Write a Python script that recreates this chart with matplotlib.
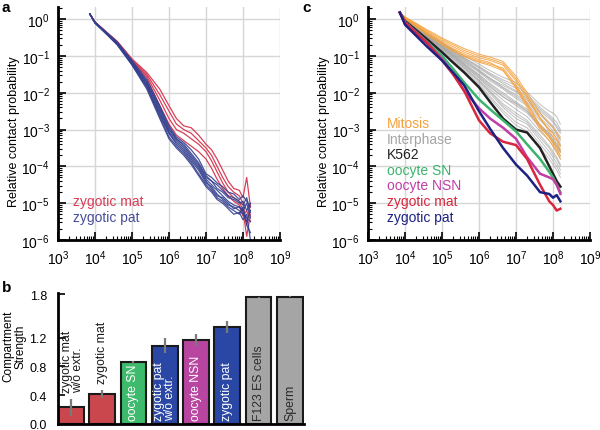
import numpy as np
import matplotlib
matplotlib.use("Agg")
import matplotlib.pyplot as plt
from matplotlib.ticker import LogLocator, LogFormatterSciNotation, NullFormatter

plt.rcParams["font.family"] = ["Liberation Sans", "DejaVu Sans"]
plt.rcParams["mathtext.default"] = "regular"

# ---- panel a: log10(s) grid and log10(P) per curve ----
a_logs = [3.86, 4.0, 4.3, 4.6, 5.0, 5.4, 5.75, 6.0, 6.2, 6.4, 6.6, 6.8, 7.0, 7.15,
          7.3, 7.45, 7.6, 7.75, 7.9, 8.0, 8.1, 8.2]
a_mat = [
    [0.14, -0.08, -0.34, -0.6, -1.08, -1.45, -1.9, -2.35, -2.7, -2.9, -2.95, -3.15, -3.4, -3.55, -3.8, -4.1, -4.4, -4.6, -4.65, -4.85, -4.3, -5.1],
    [0.14, -0.08, -0.35, -0.62, -1.1, -1.5, -2.05, -2.5, -2.85, -3.0, -3.1, -3.3, -3.5, -3.7, -4.0, -4.3, -4.55, -4.7, -4.8, -5.0, -5.6, -5.0],
    [0.14, -0.08, -0.35, -0.62, -1.1, -1.55, -2.2, -2.7, -3.0, -3.1, -3.25, -3.4, -3.6, -3.85, -4.15, -4.45, -4.7, -4.85, -4.95, -5.2, -5.9, -5.3],
    [0.14, -0.08, -0.36, -0.64, -1.12, -1.6, -2.35, -2.85, -3.15, -3.3, -3.45, -3.6, -3.8, -4.05, -4.35, -4.6, -4.8, -4.95, -5.05, -5.35, -5.2, -5.5],
]
a_pat = [
    [0.14, -0.08, -0.35, -0.62, -1.12, -1.65, -2.35, -2.9, -3.2, -3.35, -3.55, -3.8, -4.2, -4.3, -4.45, -4.55, -4.7, -4.75, -4.9, -4.8, -4.95, -5.1],
    [0.14, -0.09, -0.37, -0.65, -1.15, -1.7, -2.45, -3.0, -3.25, -3.45, -3.7, -3.95, -4.3, -4.4, -4.6, -4.7, -4.85, -4.9, -5.0, -4.95, -5.2, -5.0],
    [0.14, -0.1, -0.38, -0.66, -1.18, -1.75, -2.5, -3.05, -3.3, -3.5, -3.75, -4.0, -4.35, -4.5, -4.65, -4.8, -4.95, -5.05, -5.1, -5.2, -5.0, -5.4],
    [0.14, -0.1, -0.38, -0.67, -1.2, -1.8, -2.6, -3.1, -3.4, -3.6, -3.85, -4.1, -4.45, -4.55, -4.75, -4.9, -5.05, -5.1, -5.2, -5.3, -5.5, -5.2],
    [0.14, -0.1, -0.39, -0.68, -1.22, -1.85, -2.65, -3.2, -3.45, -3.65, -3.9, -4.2, -4.5, -4.65, -4.85, -4.95, -5.1, -5.2, -5.3, -5.1, -5.6, -5.8],
    [0.14, -0.11, -0.4, -0.7, -1.25, -1.9, -2.7, -3.25, -3.5, -3.7, -3.95, -4.25, -4.55, -4.7, -4.9, -5.0, -5.15, -5.3, -5.25, -5.45, -5.3, -6.0],
    [0.14, -0.09, -0.36, -0.64, -1.16, -1.72, -2.4, -2.95, -3.25, -3.4, -3.65, -3.9, -4.25, -4.4, -4.5, -4.65, -4.8, -4.85, -4.95, -5.05, -4.85, -5.25],
    [0.14, -0.1, -0.39, -0.69, -1.23, -1.82, -2.55, -3.1, -3.35, -3.55, -3.8, -4.05, -4.4, -4.6, -4.8, -4.85, -5.0, -5.15, -5.1, -5.25, -5.4, -5.5],
]

# ---- panel c ----
c_logs = [3.86, 4.0, 4.3, 4.6, 5.0, 5.3, 5.6, 6.0, 6.3, 6.65, 7.0, 7.3, 7.65, 7.9, 8.0, 8.1, 8.2]
c_interphase = [
    [0.18, 0.02, -0.2, -0.38, -0.63, -0.82, -1.0, -1.22, -1.4, -1.58, -1.72, -1.98, -2.32, -2.5, -2.55, -2.65, -2.85],
    [0.18, 0.01, -0.21, -0.4, -0.65, -0.85, -1.05, -1.28, -1.47, -1.65, -1.8, -2.05, -2.4, -2.6, -2.7, -2.8, -3.0],
    [0.18, 0.01, -0.22, -0.42, -0.67, -0.88, -1.08, -1.33, -1.53, -1.75, -1.95, -2.15, -2.5, -2.7, -2.8, -2.95, -3.1],
    [0.18, 0.0, -0.23, -0.43, -0.7, -0.9, -1.1, -1.38, -1.6, -1.85, -2.05, -2.25, -2.6, -2.85, -2.95, -3.1, -3.3],
    [0.18, 0.0, -0.24, -0.45, -0.72, -0.94, -1.15, -1.44, -1.68, -1.9, -2.15, -2.35, -2.75, -3.0, -3.1, -3.25, -3.45],
    [0.18, -0.01, -0.25, -0.46, -0.75, -0.97, -1.2, -1.5, -1.75, -2.0, -2.25, -2.45, -2.85, -3.1, -3.2, -3.4, -3.55],
    [0.18, -0.02, -0.25, -0.48, -0.76, -1.0, -1.23, -1.55, -1.82, -2.1, -2.35, -2.55, -2.95, -3.2, -3.35, -3.5, -3.7],
    [0.18, -0.02, -0.26, -0.49, -0.78, -1.02, -1.27, -1.6, -1.9, -2.2, -2.45, -2.65, -3.05, -3.3, -3.45, -3.6, -3.8],
    [0.18, -0.03, -0.27, -0.5, -0.8, -1.05, -1.3, -1.65, -1.95, -2.3, -2.55, -2.75, -3.15, -3.45, -3.6, -3.75, -3.95],
    [0.18, -0.03, -0.28, -0.52, -0.83, -1.08, -1.34, -1.7, -2.02, -2.4, -2.7, -2.85, -3.3, -3.6, -3.75, -3.9, -4.1],
    [0.18, -0.04, -0.29, -0.53, -0.85, -1.12, -1.38, -1.75, -2.1, -2.48, -2.8, -2.95, -3.4, -3.7, -3.85, -4.0, -4.2],
    [0.18, -0.05, -0.3, -0.55, -0.88, -1.15, -1.42, -1.8, -2.15, -2.55, -2.88, -3.05, -3.5, -3.8, -3.95, -4.1, -4.3],
    [0.18, 0.0, -0.22, -0.44, -0.73, -0.95, -1.17, -1.42, -1.62, -1.8, -1.98, -2.2, -2.55, -2.8, -2.9, -3.05, -3.2],
    [0.18, -0.02, -0.26, -0.48, -0.77, -1.0, -1.25, -1.58, -1.85, -2.12, -2.3, -2.5, -2.9, -3.15, -3.3, -3.4, -3.6],
    [0.18, 0.01, -0.21, -0.41, -0.66, -0.86, -1.06, -1.3, -1.5, -1.7, -1.88, -2.1, -2.45, -2.65, -2.75, -2.9, -3.05],
    [0.18, 0.0, -0.23, -0.44, -0.71, -0.92, -1.12, -1.4, -1.64, -1.87, -2.1, -2.3, -2.68, -2.92, -3.05, -3.15, -3.4],
    [0.18, -0.01, -0.25, -0.47, -0.76, -0.99, -1.22, -1.52, -1.78, -2.05, -2.28, -2.5, -2.9, -3.12, -3.28, -3.45, -3.6],
    [0.18, -0.03, -0.27, -0.51, -0.81, -1.06, -1.32, -1.67, -1.98, -2.35, -2.62, -2.8, -3.22, -3.5, -3.68, -3.8, -4.0],
]
c_mitosis = [
    [0.18, 0.06, -0.11, -0.29, -0.51, -0.66, -0.8, -0.95, -1.03, -1.15, -1.55, -2.0, -2.55, -2.85, -2.95, -3.1, -3.25],
    [0.18, 0.04, -0.15, -0.35, -0.59, -0.75, -0.9, -1.05, -1.12, -1.25, -1.68, -2.15, -2.7, -3.0, -3.1, -3.25, -3.45],
    [0.18, 0.02, -0.19, -0.4, -0.66, -0.83, -0.99, -1.14, -1.22, -1.33, -1.78, -2.28, -2.88, -3.18, -3.32, -3.48, -3.62],
    [0.18, 0.03, -0.17, -0.37, -0.63, -0.8, -0.95, -1.1, -1.18, -1.38, -1.88, -2.4, -3.0, -3.3, -3.45, -3.62, -3.8],
    [0.18, 0.05, -0.13, -0.32, -0.55, -0.7, -0.85, -1.0, -1.08, -1.2, -1.62, -2.08, -2.68, -3.05, -3.2, -3.3, -3.55],
    [0.18, 0.01, -0.21, -0.43, -0.7, -0.87, -1.02, -1.17, -1.26, -1.4, -1.84, -2.33, -2.92, -3.22, -3.38, -3.55, -3.72],
]
c_k562 = [0.18, -0.05, -0.3, -0.55, -0.9, -1.18, -1.45, -1.85, -2.25, -2.7, -3.0, -3.08, -3.5, -4.0, -4.2, -4.4, -4.55]
c_sn = [0.18, -0.08, -0.35, -0.62, -1.0, -1.35, -1.72, -2.18, -2.45, -2.75, -3.05, -3.4, -3.8, -4.15, -4.3, -4.5, -4.7]
c_nsn = [0.18, -0.08, -0.36, -0.64, -1.08, -1.48, -1.95, -2.42, -2.7, -2.95, -3.25, -3.75, -4.2, -4.3, -4.35, -4.5, -4.75]
c_mat = [0.18, -0.1, -0.38, -0.65, -1.12, -1.5, -1.95, -2.75, -3.1, -3.33, -3.42, -3.8, -4.5, -4.95, -5.05, -5.2, -5.15]
c_pat = [0.18, -0.15, -0.45, -0.75, -1.12, -1.45, -1.8, -2.5, -2.98, -3.5, -3.95, -4.25, -4.7, -4.75, -4.85, -4.78, -4.95]

c_labels = ["Mitosis", "Interphase", "K562", "oocyte SN", "oocyte NSN", "zygotic mat", "zygotic pat"]
c_colors = ["#f5a13a", "#a5a5a5", "#222222", "#3cb36c", "#c23da6", "#d7263d", "#1c2182"]

# ---- panel b ----
b_labels = ["zygotic mat\nw/o extr.", "zygotic mat", "oocyte SN", "zygotic pat\nw/o extr.",
            "oocyte NSN", "zygotic pat", "F123 ES cells", "Sperm"]
b_values = [0.23, 0.42, 0.86, 1.09, 1.17, 1.35, 1.76, 1.77]
b_errors = [0.12, 0.055, 0.02, 0.11, 0.08, 0.08, 0.01, 0.01]
b_colors = ["#c9474d", "#c9474d", "#3dba6b", "#2b47a6", "#b8459f", "#2b47a6", "#a5a5a5", "#a5a5a5"]


def style_log(ax):
    ax.set_xscale("log")
    ax.set_yscale("log")
    ax.set_xlim(1e3, 1e9)
    ax.set_ylim(1e-6, 10 ** 0.33)
    for sp in ["top", "right"]:
        ax.spines[sp].set_visible(False)
    for sp in ["left", "bottom"]:
        ax.spines[sp].set_linewidth(2)
    ax.xaxis.set_major_locator(LogLocator(base=10, numticks=10))
    ax.yaxis.set_major_locator(LogLocator(base=10, numticks=10))
    ax.xaxis.set_minor_locator(LogLocator(base=10, subs=np.arange(2, 10), numticks=10))
    ax.yaxis.set_minor_locator(LogLocator(base=10, subs=np.arange(2, 10), numticks=10))
    ax.xaxis.set_major_formatter(LogFormatterSciNotation())
    ax.yaxis.set_major_formatter(LogFormatterSciNotation())
    ax.xaxis.set_minor_formatter(NullFormatter())
    ax.yaxis.set_minor_formatter(NullFormatter())
    ax.tick_params(which="major", direction="in", length=6, width=1.2, labelsize=10, pad=6)
    ax.tick_params(which="minor", direction="in", length=3, width=0.8)
    ax.grid(True, which="major", color="#d6d6d6", linewidth=1)
    ax.set_axisbelow(True)
    ax.set_ylabel("Relative contact probability", fontsize=9)
    ax.yaxis.set_label_coords(-0.172, 0.47)


fig = plt.figure(figsize=(6, 4.31), dpi=100)

# panel a
ax_a = fig.add_axes([58 / 600, 1 - 241 / 431, 222 / 600, 233 / 431])
style_log(ax_a)
sa = 10 ** np.array(a_logs)
for ys in a_mat:
    ax_a.plot(sa, 10 ** np.array(ys), color="#d9405a", lw=0.9)
for ys in a_pat:
    ax_a.plot(sa, 10 ** np.array(ys), color="#34408f", lw=0.9, alpha=0.9)
ax_a.text(0.068, 0.15, "zygotic mat", color="#d93c55", fontsize=10, transform=ax_a.transAxes)
ax_a.text(0.068, 0.083, "zygotic pat", color="#464d9c", fontsize=10, transform=ax_a.transAxes)

# panel c
ax_c = fig.add_axes([368 / 600, 1 - 241 / 431, 222 / 600, 233 / 431])
style_log(ax_c)
sc = 10 ** np.array(c_logs)
for ys in c_interphase:
    ax_c.plot(sc, 10 ** np.array(ys), color=c_colors[1], lw=0.7, alpha=0.7)
for ys in c_mitosis:
    ax_c.plot(sc, 10 ** np.array(ys), color=c_colors[0], lw=0.75, alpha=0.85)
for ys, col in zip([c_k562, c_sn, c_nsn, c_mat, c_pat], c_colors[2:]):
    ax_c.plot(sc, 10 ** np.array(ys), color=col, lw=1.8)
for i, (lab, col) in enumerate(zip(c_labels, c_colors)):
    ax_c.text(0.085, 0.485 - i * 0.067, lab, color=col, fontsize=10, transform=ax_c.transAxes)

# panel b
ax_b = fig.add_axes([58 / 600, 1 - 425 / 431, 246 / 600, 131 / 431])
x = np.arange(len(b_values))
ax_b.bar(x, b_values, width=0.82, color=b_colors, edgecolor="#1a1a1a", linewidth=1.5)
ax_b.errorbar(x, b_values, yerr=b_errors, fmt="none", ecolor="#7a7a7a", elinewidth=1.6, capsize=0)
ax_b.set_xlim(-0.41, len(b_values) - 0.55)
ax_b.set_ylim(0, 1.82)
ax_b.set_yticks([0.0, 0.4, 0.8, 1.2, 1.8])
ax_b.set_yticklabels(["0.0", "0.4", "0.8", "1.2", "1.8"])
ax_b.set_xticks([])
for sp in ["top", "right"]:
    ax_b.spines[sp].set_visible(False)
for sp in ["left", "bottom"]:
    ax_b.spines[sp].set_linewidth(2)
ax_b.tick_params(axis="y", direction="in", length=5, width=1.2, labelsize=9, pad=8)
ax_b.set_ylabel("Compartment\nStrength", fontsize=8.5, linespacing=1.0)
ax_b.yaxis.set_label_coords(-0.13, 0.6)
for i, lab in enumerate(b_labels):
    if i < 2:
        ypos = b_values[i] + b_errors[i] + 0.09
        col = "#1a1a1a"
    else:
        ypos = 0.06
        col = "white" if i < 6 else "#2a2a2a"
    ax_b.text(x[i] + (0.06 if i == 0 else 0), ypos, lab, rotation=90, ha="center", va="bottom",
              multialignment="left", color=col, fontsize=8.8, linespacing=0.95)

# panel letters
fig.text(2 / 600, 1 - 12 / 431, "a", fontsize=11, fontweight="bold")
fig.text(302 / 600, 1 - 12 / 431, "c", fontsize=11, fontweight="bold")
fig.text(2 / 600, 1 - 292 / 431, "b", fontsize=11, fontweight="bold")

fig.savefig("out.png", dpi=100)
